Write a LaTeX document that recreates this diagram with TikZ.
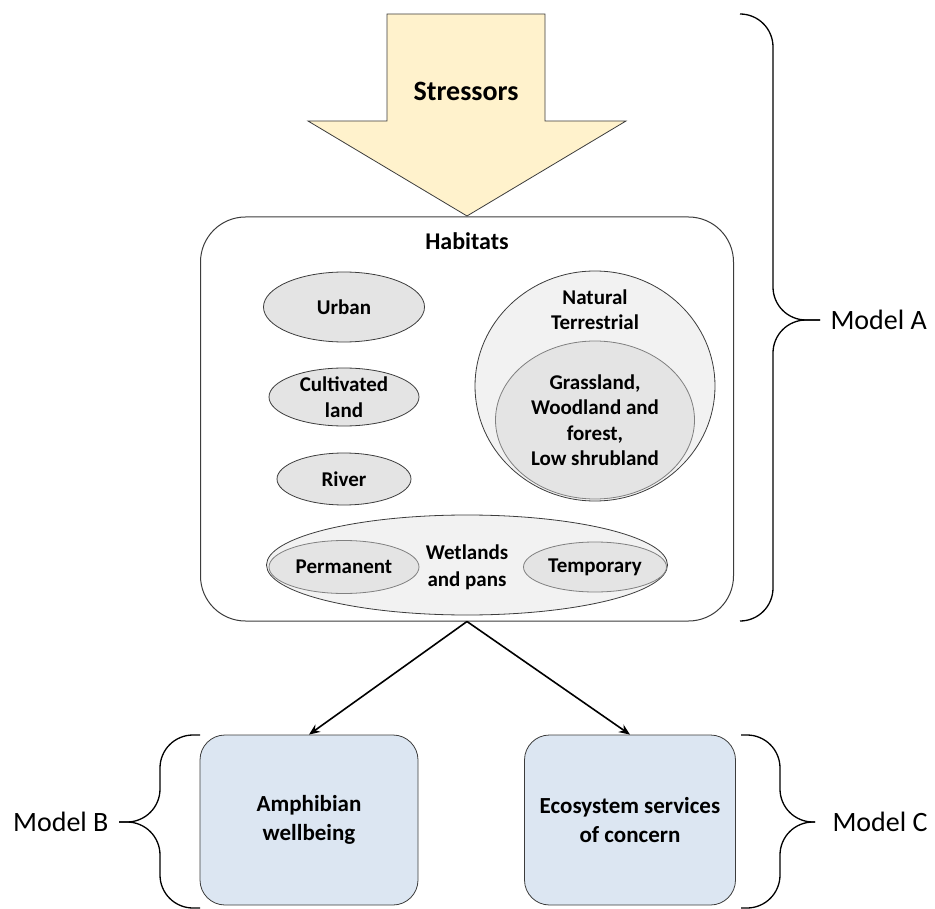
\documentclass[tikz,border=0pt]{standalone}
\usepackage{fontspec}
\setmainfont{Carlito}
\usetikzlibrary{positioning,arrows.meta,shapes.geometric}
\definecolor{stressfill}{HTML}{FFF2CC}
\definecolor{habfill}{HTML}{E4E4E4}
\definecolor{groupfill}{HTML}{F2F2F2}
\definecolor{outfill}{HTML}{DCE6F2}
\definecolor{edge}{HTML}{3C3C3C}

\begin{document}
\begin{tikzpicture}[x=1pt, y=-1pt,
  lbl/.style={font=\fontsize{21}{25}\selectfont\bfseries, align=center},
  hab/.style={ellipse, draw=edge, fill=habfill, inner sep=0pt, line width=0.8pt,
    font=\fontsize{21}{25.5}\selectfont\bfseries, align=center},
  group/.style={hab, fill=groupfill},
  outcome/.style={draw=edge, fill=outfill, rounded corners=25pt, line width=0.8pt,
    minimum height=170pt, font=\fontsize{23}{29}\selectfont\bfseries, align=center},
  model/.style={font=\fontsize{28}{32}\selectfont},
  brace/.style={line width=1.3pt, rounded corners=33pt},
  >={Stealth[length=11pt,width=9pt]}
]
  \useasboundingbox (0,0) rectangle (935,909);

  % stressors
  \draw[fill=stressfill, draw=edge, line width=0.8pt] (387,14) -- (545,14) -- (545,121)
    -- (626,121) -- (467,216) -- (308,121) -- (387,121) -- cycle;
  \node[font=\fontsize{28}{30}\selectfont\bfseries] (stress) at (466,91) {Stressors};

  % habitats
  \node[draw=edge, rounded corners=45pt, line width=1pt, minimum width=533pt,
    minimum height=404pt] (habitats) at (467,419) {};
  \node[font=\fontsize{24}{26}\selectfont\bfseries] (habtitle) at (467,241) {Habitats};

  \node[hab, minimum width=161pt, minimum height=70pt] (urban) at (344,307) {Urban};
  \node[hab, minimum width=150pt, minimum height=58pt] (cultiv) at (344,397) {Cultivated\\land};
  \node[hab, minimum width=134pt, minimum height=52pt] (river) at (344,479) {River};

  \node[group, minimum width=240pt, minimum height=230pt] (natural) at (595,386) {};
  \node[lbl] (naturaltxt) at (595,310) {Natural\\Terrestrial};
  \node[hab, draw=gray, minimum width=199pt, minimum height=158pt] (forest) at (595,420)
    {Grassland,\\Woodland and\\forest,\\Low shrubland};

  \node[group, minimum width=401pt, minimum height=100pt] (wetland) at (467,565) {};
  \node[hab, draw=gray, minimum width=150pt, minimum height=53pt] (perm) at (344,567) {Permanent};
  \node[hab, draw=gray, minimum width=143pt, minimum height=50pt] (temp) at (595,567) {Temporary};
  \node[lbl, font=\fontsize{21}{27}\selectfont\bfseries] (wetlandtxt) at (467,567) {Wetlands\\and pans};

  % outcomes
  \node[outcome, minimum width=218pt] (amph) at (309,820) {Amphibian\\wellbeing};
  \node[outcome, minimum width=211pt] (eco) at (630,820) {Ecosystem services\\of concern};

  \draw[->, line width=1.6pt] (habitats.south) -- (amph.north);
  \draw[->, line width=1.6pt] (habitats.south) -- (eco.north);

  % models
  \draw[brace] (740,14) -- (773,14) -- (773,320) -- (820,320);
  \draw[brace] (740,621) -- (773,621) -- (773,320) -- (820,320);
  \node[model, anchor=west] (modela) at (827,320) {Model A};

  \draw[brace] (200,735) -- (160,735) -- (160,822) -- (119,822);
  \draw[brace] (200,908) -- (160,908) -- (160,822) -- (119,822);
  \node[model, anchor=east] (modelb) at (112,822) {Model B};

  \draw[brace] (741,735) -- (780,735) -- (780,822) -- (815,822);
  \draw[brace] (741,908) -- (780,908) -- (780,822) -- (815,822);
  \node[model, anchor=west] (modelc) at (829,822) {Model C};
\end{tikzpicture}
\end{document}
